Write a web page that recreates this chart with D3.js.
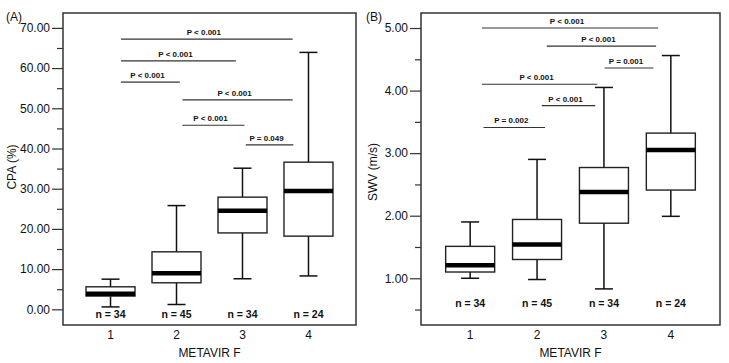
<!DOCTYPE html>
<html lang="en">
	<head>
		<meta charset="utf-8">
		<title>CPA and SWV by METAVIR F</title>
		<script src="https://d3js.org/d3.v7.min.js"></script>
		<style type="text/css">
			body { margin: 0; background: #fff; }
			text { font-family: "Liberation Sans", Arial, sans-serif; fill: #111; }
		</style>
	</head>
	<body>
		<script type="text/javascript">
			// stages on the x axis
			var stages = ["1", "2", "3", "4"];
			var counts = ["n = 34", "n = 45", "n = 34", "n = 24"];

			// panel A: CPA (%) -> [low whisker, q1, median, q3, high whisker]
			var cpaLow    = [0.6, 1.2, 7.6, 8.3];
			var cpaQ1     = [3.3, 6.6, 19.0, 18.2];
			var cpaMedian = [3.9, 9.0, 24.5, 29.4];
			var cpaQ3     = [5.6, 14.3, 27.9, 36.6];
			var cpaHigh   = [7.5, 25.8, 35.1, 63.9];
			var cpaTicks  = [0, 10, 20, 30, 40, 50, 60, 70];
			// brackets: from stage, to stage (fractional), level, text
			var cpaFrom  = [1.16, 1.16, 1.16, 2.09, 2.09, 3.05];
			var cpaTo    = [3.76, 2.90, 2.05, 3.76, 3.03, 3.77];
			var cpaLevel = [67.2, 61.8, 56.5, 52.1, 45.8, 40.9];
			var cpaP     = ["P < 0.001", "P < 0.001", "P < 0.001", "P < 0.001", "P < 0.001", "P = 0.049"];

			// panel B: SWV (m/s)
			var swvLow    = [1.00, 0.98, 0.83, 1.99];
			var swvQ1     = [1.10, 1.30, 1.88, 2.41];
			var swvMedian = [1.21, 1.54, 2.38, 3.05];
			var swvQ3     = [1.51, 1.94, 2.77, 3.32];
			var swvHigh   = [1.90, 2.90, 4.05, 4.56];
			var swvTicks  = [1, 2, 3, 4, 5];
			var swvFrom  = [1.175, 2.145, 3.01, 1.175, 2.07, 1.20];
			var swvTo    = [3.81, 3.78, 3.74, 2.90, 2.87, 2.12];
			var swvLevel = [5.00, 4.71, 4.36, 4.10, 3.76, 3.41];
			var swvP     = ["P < 0.001", "P < 0.001", "P = 0.001", "P < 0.001", "P < 0.001", "P = 0.002"];

			var svg = d3.select("body").append("svg")
				.attr("width", 729)
				.attr("height", 363);

			function drawPanel(opt) {
				var left = opt.left, right = opt.right, top = 13, bottom = 325;

				var x = d3.scalePoint().domain(stages).range([left, right]).padding(opt.pad);
				// linear version of x for brackets placed between stages
				var xl = d3.scaleLinear().domain([1, 4]).range([x("1"), x("4")]);
				var y = d3.scaleLinear().domain(opt.domain).range([bottom, top]);

				var g = svg.append("g");

				// frame
				g.append("rect")
					.attr("x", left).attr("y", top)
					.attr("width", right - left).attr("height", bottom - top)
					.attr("fill", "none").attr("stroke", "#333").attr("stroke-width", 1.5);

				// y axis major ticks
				var yAxis = g.append("g")
					.attr("transform", "translate(" + left + ",0)")
					.call(d3.axisLeft(y).tickValues(opt.ticks).tickSize(11).tickPadding(2)
						.tickFormat(d3.format(".2f")));
				yAxis.select(".domain").remove();
				yAxis.selectAll(".tick line").attr("stroke", "#333").attr("stroke-width", 1.2);
				yAxis.selectAll("text").style("font-size", "12px").attr("fill", "#111");

				// minor ticks
				var minorAxis = g.append("g")
					.attr("transform", "translate(" + left + ",0)")
					.call(d3.axisLeft(y).tickValues(opt.minor).tickSize(6).tickFormat(""));
				minorAxis.select(".domain").remove();
				minorAxis.selectAll(".tick line").attr("stroke", "#333").attr("stroke-width", 1.2);

				// x axis labels
				g.selectAll(".xlab")
					.data(stages)
					.enter().append("text")
					.attr("x", function(d){ return x(d); })
					.attr("y", 339)
					.attr("text-anchor", "middle")
					.style("font-size", "12px")
					.text(function(d){ return d; });

				g.append("text")
					.attr("x", (left + right) / 2)
					.attr("y", 357)
					.attr("text-anchor", "middle")
					.style("font-size", "12px")
					.text("METAVIR F");

				// y title
				g.append("text")
					.attr("transform", "translate(" + opt.titleX + "," + opt.titleY + ") rotate(-90)")
					.attr("text-anchor", "middle")
					.style("font-size", "12px")
					.text(opt.title);

				// panel letter
				g.append("text")
					.attr("x", opt.letterX)
					.attr("y", 21)
					.style("font-size", "12px")
					.text(opt.letter);

				var boxW = 49, capW = 18;

				var boxes = g.selectAll(".box")
					.data(stages)
					.enter().append("g");

				// whiskers
				boxes.append("line")
					.attr("x1", function(d){ return x(d); })
					.attr("x2", function(d){ return x(d); })
					.attr("y1", function(d, i){ return y(opt.low[i]); })
					.attr("y2", function(d, i){ return y(opt.high[i]); })
					.attr("stroke", "#111").attr("stroke-width", 1.5);
				boxes.append("line")
					.attr("x1", function(d){ return x(d) - capW / 2; })
					.attr("x2", function(d){ return x(d) + capW / 2; })
					.attr("y1", function(d, i){ return y(opt.low[i]); })
					.attr("y2", function(d, i){ return y(opt.low[i]); })
					.attr("stroke", "#111").attr("stroke-width", 1.5);
				boxes.append("line")
					.attr("x1", function(d){ return x(d) - capW / 2; })
					.attr("x2", function(d){ return x(d) + capW / 2; })
					.attr("y1", function(d, i){ return y(opt.high[i]); })
					.attr("y2", function(d, i){ return y(opt.high[i]); })
					.attr("stroke", "#111").attr("stroke-width", 1.5);

				// boxes
				boxes.append("rect")
					.attr("x", function(d){ return x(d) - boxW / 2; })
					.attr("width", boxW)
					.attr("y", function(d, i){ return y(opt.q3[i]); })
					.attr("height", function(d, i){ return y(opt.q1[i]) - y(opt.q3[i]); })
					.attr("fill", "#fff").attr("stroke", "#222").attr("stroke-width", 1.4);

				// medians
				boxes.append("line")
					.attr("x1", function(d){ return x(d) - boxW / 2; })
					.attr("x2", function(d){ return x(d) + boxW / 2; })
					.attr("y1", function(d, i){ return y(opt.median[i]); })
					.attr("y2", function(d, i){ return y(opt.median[i]); })
					.attr("stroke", "#000").attr("stroke-width", 4.5);

				// n labels
				g.selectAll(".nlab")
					.data(counts)
					.enter().append("text")
					.attr("x", function(d, i){ return x(stages[i]); })
					.attr("y", opt.nY)
					.attr("text-anchor", "middle")
					.style("font-size", "10.5px")
					.style("font-weight", "bold")
					.text(function(d){ return d; });

				// significance brackets
				var br = g.selectAll(".br")
					.data(opt.p)
					.enter().append("g");
				br.append("line")
					.attr("x1", function(d, i){ return xl(opt.from[i]); })
					.attr("x2", function(d, i){ return xl(opt.to[i]); })
					.attr("y1", function(d, i){ return y(opt.level[i]); })
					.attr("y2", function(d, i){ return y(opt.level[i]); })
					.attr("stroke", "#333").attr("stroke-width", 1.1);
				br.append("text")
					.attr("x", function(d, i){ return (xl(opt.from[i]) + xl(opt.to[i])) / 2 - 3; })
					.attr("y", function(d, i){ return y(opt.level[i]) - 4; })
					.attr("text-anchor", "middle")
					.style("font-size", "8px")
					.style("font-weight", "bold")
					.text(function(d){ return d; });
			}

			drawPanel({
				left: 63, right: 356, pad: 0.72,
				domain: [-3.9, 73.7],
				ticks: cpaTicks, minor: [5, 15, 25, 35, 45, 55, 65],
				low: cpaLow, q1: cpaQ1, median: cpaMedian, q3: cpaQ3, high: cpaHigh,
				from: cpaFrom, to: cpaTo, level: cpaLevel, p: cpaP,
				title: "CPA (%)", titleX: 16, titleY: 167, letter: "(A)", letterX: 6, nY: 318
			});

			drawPanel({
				left: 421, right: 720, pad: 0.735,
				domain: [0.253, 5.24],
				ticks: swvTicks, minor: [0.5, 1.5, 2.5, 3.5, 4.5],
				low: swvLow, q1: swvQ1, median: swvMedian, q3: swvQ3, high: swvHigh,
				from: swvFrom, to: swvTo, level: swvLevel, p: swvP,
				title: "SWV (m/s)", titleX: 377, titleY: 172, letter: "(B)", letterX: 366, nY: 307
			});
		</script>
	</body>
</html>
